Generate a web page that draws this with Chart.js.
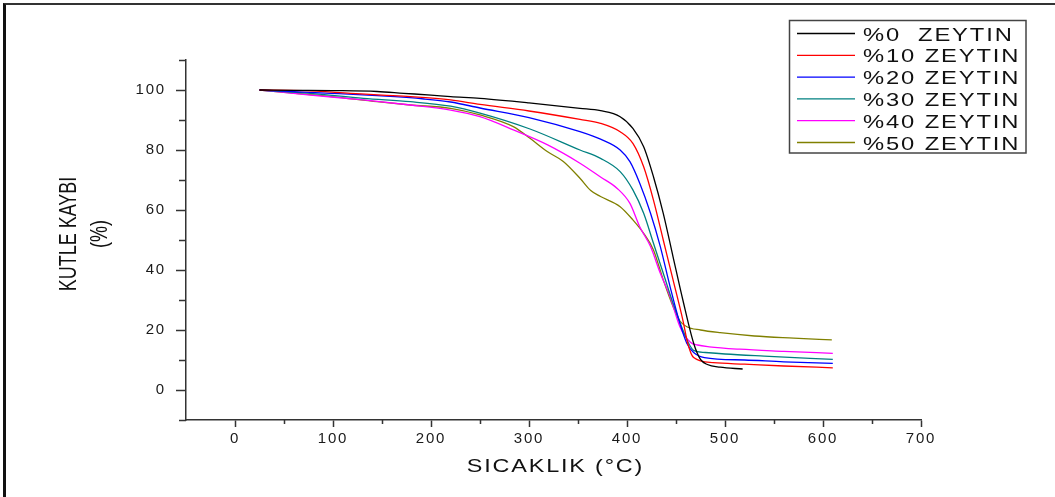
<!DOCTYPE html>
<html>
<head>
<meta charset="utf-8">
<script src="https://cdn.jsdelivr.net/npm/chart.js@4.4.1/dist/chart.umd.min.js"></script>
<style>
  html, body { margin: 0; padding: 0; background: #fff; }
  #wrap { position: relative; width: 1055px; height: 497px; overflow: hidden; }
  #wrap canvas { position: absolute; left: 0; top: 0; }
  #frame { position: absolute; left: 3px; top: 3px; right: -10px; bottom: -10px;
           border-left: 3px solid #111; border-top: 2px solid #333; pointer-events: none; }
</style>
</head>
<body>
<div id="wrap">
  <canvas id="tga" width="1055" height="497"></canvas>
  <div id="frame"></div>
</div>
<script>
// Series names and colours
const seriesLabels = ['%0  ZEYTIN', '%10 ZEYTIN', '%20 ZEYTIN', '%30 ZEYTIN', '%40 ZEYTIN', '%50 ZEYTIN'];
const seriesColors = ['#000000', '#ff0000', '#0000ff', '#008080', '#ff00ff', '#808000'];

// Axis titles
const xTitle = 'SICAKLIK (\u00B0C)';
const yTitle = ['KUTLE KAYBI', '(%)'];

// Tick values
const xMajor = [0, 100, 200, 300, 400, 500, 600, 700];
const xMinor = [50, 150, 250, 350, 450, 550, 650];
const yMajor = [0, 20, 40, 60, 80, 100];
const yMinor = [-10, 10, 30, 50, 70, 90, 110];

// %0 ZEYTIN
const temp0 = [25, 60, 100, 145, 172, 200, 220, 250, 300, 352, 373, 393, 406, 417, 427, 437, 447, 457, 468, 475, 482, 495, 518];
const mass0 = [100, 99.9, 99.8, 99.5, 98.9, 98.3, 97.8, 97.2, 95.7, 93.9, 93.1, 91.1, 87.2, 81.1, 71.1, 58.9, 44.4, 30, 15.6, 10.2, 8.5, 7.6, 7];
// %10 ZEYTIN
const temp1 = [25, 70, 118, 150, 179, 220, 250, 300, 352, 373, 393, 406, 417, 427, 437, 447, 457, 462, 468, 488, 520, 560, 610];
const mass1 = [100, 99.8, 98.9, 98.3, 97.8, 96.7, 95.2, 93, 90.2, 88.9, 86.1, 82.2, 74.4, 63.3, 50, 36.7, 23.3, 15.5, 10.8, 9.1, 8.6, 8, 7.4];
// %20 ZEYTIN
const temp2 = [25, 98, 145, 193, 220, 250, 300, 352, 373, 393, 403, 413, 424, 434, 444, 454, 461, 468, 479, 520, 560, 610];
const mass2 = [100, 98.9, 98.1, 97, 96, 94, 90.8, 86.1, 83.6, 80, 76.1, 68.9, 58.9, 47.8, 34.4, 22.2, 15.6, 12.5, 10.8, 10, 9.4, 8.9];
// %30 ZEYTIN
const temp3 = [25, 77, 131, 179, 220, 250, 301, 352, 373, 393, 406, 417, 427, 437, 447, 457, 463, 468, 480, 500, 540, 610];
const mass3 = [100, 98.9, 97.2, 96.1, 94.6, 92.3, 87, 80, 77.2, 72.8, 66.7, 58.9, 48.9, 38.9, 28.9, 20, 15.5, 13.2, 12.5, 12, 11.3, 10.2];
// %40 ZEYTIN
const temp4 = [25, 77, 131, 179, 220, 250, 284, 319, 352, 373, 390, 403, 413, 424, 434, 444, 454, 465, 472, 484, 515, 560, 610];
const mass4 = [100, 98.3, 96.7, 95, 93.3, 91.1, 86.7, 81.7, 75.6, 71, 67.2, 62.2, 54.4, 47.8, 38.9, 31.1, 21.1, 15.8, 15, 14.4, 13.6, 12.9, 12.2];
// %50 ZEYTIN
const temp5 = [25, 50, 98, 145, 179, 220, 250, 284, 301, 319, 335, 352, 363, 373, 393, 406, 417, 427, 437, 447, 454, 461, 475, 495, 530, 570, 609];
const mass5 = [100, 99.2, 97.8, 96.1, 95, 93.9, 91.7, 87.8, 83.9, 79.4, 76.2, 70.6, 66.5, 64.5, 61.1, 56.7, 52.2, 46.7, 36.7, 27.8, 23, 21.1, 20, 19.1, 18, 17.3, 16.7];

const temps = [temp0, temp1, temp2, temp3, temp4, temp5];
const masses = [mass0, mass1, mass2, mass3, mass4, mass5];

const datasets = temps.map((t, i) => ({
  label: seriesLabels[i],
  data: t.map((v, j) => ({ x: v, y: masses[i][j] })),
  borderColor: seriesColors[i],
  backgroundColor: seriesColors[i],
  borderWidth: 1.3,
  pointRadius: 0,
  fill: false,
  cubicInterpolationMode: 'monotone'
}));

const FONT = 'Liberation Sans, Arial, sans-serif';
const AXIS = '#333';

// Wider glyph spacing for the tick labels
const tickSpacing = {
  id: 'tickSpacing',
  beforeLayout(chart) { chart.ctx.letterSpacing = '1.8px'; },
  beforeDraw(chart) { chart.ctx.letterSpacing = '1.8px'; }
};

// Short unlabeled ticks between the numbered ones
const minorTicks = {
  id: 'minorTicks',
  afterDraw(chart) {
    const { ctx, chartArea: a, scales: { x, y } } = chart;
    ctx.save();
    ctx.strokeStyle = AXIS;
    ctx.lineWidth = 1.5;
    ctx.beginPath();
    xMinor.forEach(v => {
      const px = Math.round(x.getPixelForValue(v)) + 0.5;
      ctx.moveTo(px, a.bottom);
      ctx.lineTo(px, a.bottom + 4);
    });
    yMinor.forEach(v => {
      const py = Math.round(y.getPixelForValue(v)) + 0.5;
      ctx.moveTo(a.left, py);
      ctx.lineTo(a.left - 7, py);
    });
    ctx.stroke();
    ctx.restore();
  }
};

// Horizontally widened text helper
function wideText(ctx, text, x, y, sx, opts) {
  ctx.save();
  ctx.translate(x, y);
  ctx.scale(sx, 1);
  if (opts.rotate) ctx.rotate(opts.rotate);
  ctx.font = opts.font;
  ctx.letterSpacing = opts.spacing || '0px';
  ctx.fillStyle = opts.color || '#111';
  ctx.textAlign = opts.align || 'left';
  ctx.textBaseline = 'alphabetic';
  ctx.fillText(text, 0, 0);
  ctx.restore();
}

// Axis titles and the boxed legend in the upper right
const annotations = {
  id: 'annotations',
  afterDraw(chart) {
    const ctx = chart.ctx;
    const a = chart.chartArea;

    // x title
    wideText(ctx, xTitle, (a.left + a.right) / 2 + 2, 472, 1.3,
      { font: '18px ' + FONT, spacing: '1.4px', align: 'center' });

    // y title, two rotated lines
    const yc = (a.top + a.bottom) / 2 - 6;
    wideText(ctx, yTitle[0], 76, yc, 1.3,
      { font: '18px ' + FONT, spacing: '0px', align: 'center', rotate: -Math.PI / 2 });
    wideText(ctx, yTitle[1], 107, yc, 1.3,
      { font: '18px ' + FONT, spacing: '0px', align: 'center', rotate: -Math.PI / 2 });

    // legend box
    const bx = 789.5, by = 20.5, bw = 236.5, bh = 132.5;
    ctx.save();
    ctx.letterSpacing = '0px';
    ctx.strokeStyle = '#444';
    ctx.lineWidth = 1.5;
    ctx.strokeRect(bx, by, bw, bh);
    chart.data.datasets.forEach((ds, i) => {
      const ry = 33.5 + i * 21.8;
      ctx.strokeStyle = ds.borderColor;
      ctx.lineWidth = 1.3;
      ctx.beginPath();
      ctx.moveTo(797, ry);
      ctx.lineTo(855, ry);
      ctx.stroke();
      wideText(ctx, ds.label, 863, ry + 7, 1.25,
        { font: '19px ' + FONT, spacing: '1.5px', align: 'left' });
    });
    ctx.restore();
  }
};

const tickFont = { family: FONT, size: 15 };

new Chart(document.getElementById('tga'), {
  type: 'line',
  data: { datasets },
  options: {
    responsive: false,
    animation: false,
    devicePixelRatio: 1,
    layout: { padding: { top: 60, right: 134, left: 0, bottom: 0 } },
    plugins: { legend: { display: false }, tooltip: { enabled: false } },
    scales: {
      x: {
        type: 'linear',
        min: -50,
        max: 700,
        afterFit: s => { s.height = 77; },
        afterBuildTicks: s => { s.ticks = xMajor.map(v => ({ value: v })); },
        grid: { drawOnChartArea: false, drawTicks: true, tickLength: 7, tickColor: AXIS, tickWidth: 1.5 },
        border: { display: true, color: AXIS, width: 1.5 },
        ticks: { padding: 3, color: '#1a1a1a', font: tickFont, maxRotation: 0, autoSkip: false },
        title: { display: false }
      },
      y: {
        type: 'linear',
        min: -10,
        max: 110,
        afterFit: s => { s.width = 186; },
        afterBuildTicks: s => { s.ticks = yMajor.map(v => ({ value: v })); },
        grid: { drawOnChartArea: false, drawTicks: true, tickLength: 10, tickColor: AXIS, tickWidth: 1.5 },
        border: { display: true, color: AXIS, width: 1.5 },
        ticks: { padding: 10, color: '#1a1a1a', font: tickFont, autoSkip: false },
        title: { display: false }
      }
    }
  },
  plugins: [tickSpacing, minorTicks, annotations]
});
</script>
</body>
</html>
